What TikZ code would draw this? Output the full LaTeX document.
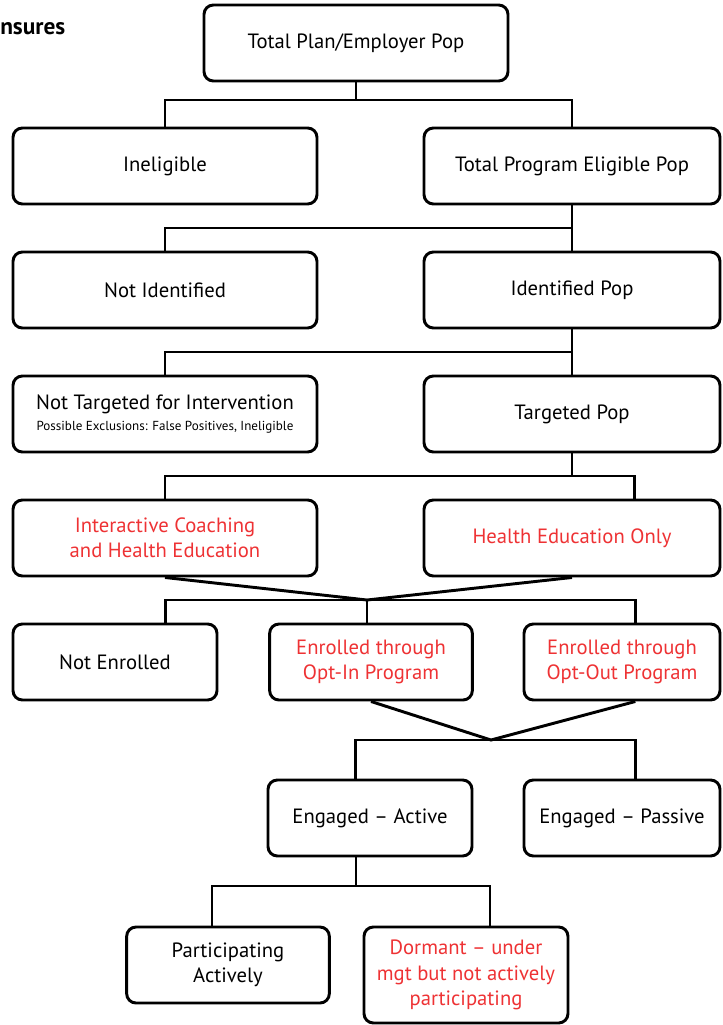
\documentclass[tikz,border=0pt]{standalone}
\usepackage{fontspec}
\setmainfont{PT Sans}
\definecolor{mgtred}{RGB}{238,50,52}
\tikzset{
  box/.style={draw, line width=2.2pt, rounded corners=7pt, align=center,
    minimum height=57pt, inner sep=2pt, font=\fontsize{15.5}{19}\selectfont},
  redtxt/.style={text=mgtred},
  link/.style={line width=2.2pt}
}
\begin{document}
\begin{tikzpicture}[x=0.75pt,y=-0.75pt]
  \useasboundingbox (0,0) rectangle (722,1025);
  \node[anchor=west, inner sep=0pt, font=\fontsize{17.5}{20}\selectfont\bfseries] (title) at (0,29) {nsures};
  % boxes
  \node[box, minimum width=228pt] (total) at (356,43) {Total Plan/Employer Pop};
  \node[box, minimum width=228pt] (inelig) at (165,166) {Ineligible};
  \node[box, minimum width=222pt] (elig) at (572,166) {Total Program Eligible Pop};
  \node[box, minimum width=228pt] (notid) at (165,290) {Not Identified};
  \node[box, minimum width=222pt] (ident) at (572,290) {Identified Pop};
  \node[box, minimum width=228pt] (nottgt) at (165,414) {Not Targeted for Intervention\\[-3pt]
    {\fontsize{9.8}{11}\selectfont Possible Exclusions: False Positives, Ineligible}};
  \node[box, minimum width=222pt] (tgt) at (572,414) {Targeted Pop};
  \node[box, redtxt, minimum width=228pt] (coach) at (165,538) {Interactive Coaching\\and Health Education};
  \node[box, redtxt, minimum width=222pt] (healthed) at (572,538) {Health Education Only};
  \node[box, minimum width=153pt] (notenr) at (115,662) {Not Enrolled};
  \node[box, redtxt, minimum width=152pt] (optin) at (371,662) {Enrolled through\\Opt-In Program};
  \node[box, redtxt, minimum width=147pt] (optout) at (622,662) {Enrolled through\\Opt-Out Program};
  \node[box, minimum width=153pt] (active) at (370,818) {Engaged -- Active};
  \node[box, minimum width=147pt] (passive) at (622,818) {Engaged -- Passive};
  \node[box, minimum width=152pt] (partic) at (228,965) {Participating\\Actively};
  \node[box, redtxt, minimum width=153pt, minimum height=72pt] (dormant) at (466,975)
    {Dormant -- under\\mgt but not actively\\participating};
  % junctions
  \coordinate (j1) at (356,100);
  \coordinate (j2) at (572,228);
  \coordinate (j3) at (572,352);
  \coordinate (j4) at (572,476);
  \coordinate (m5) at (367,600);
  \coordinate (m6) at (491,740);
  \coordinate (j7) at (356,886);
  % connectors
  \draw[link] (total.south) -- (j1);
  \draw[link] (inelig.north) |- (j1) -| (elig.north);
  \draw[link] (elig.south) -- (j2);
  \draw[link] (notid.north) |- (j2) -- (ident.north);
  \draw[link] (ident.south) -- (j3);
  \draw[link] (nottgt.north) |- (j3) -- (tgt.north);
  \draw[link] (tgt.south) -- (j4);
  \draw[link] (coach.north) |- (j4) -| ([xshift=47pt]healthed.north);
  \draw[link] (coach.south) -- (m5) -- (healthed.south);
  \draw[link] ([xshift=38pt]notenr.north) |- (m5) -| ([xshift=10pt]optout.north);
  \draw[link] (m5) -- (optin.north -| m5);
  \draw[link] (optin.south) -- (m6) -- ([xshift=10pt]optout.south);
  \draw[link] ([xshift=-11pt]active.north) |- (m6) -| ([xshift=10pt]passive.north);
  \draw[link] (active.south -| j7) -- (j7);
  \draw[link] ([xshift=-12pt]partic.north) |- (j7) -| ([xshift=18pt]dormant.north);
\end{tikzpicture}
\end{document}
